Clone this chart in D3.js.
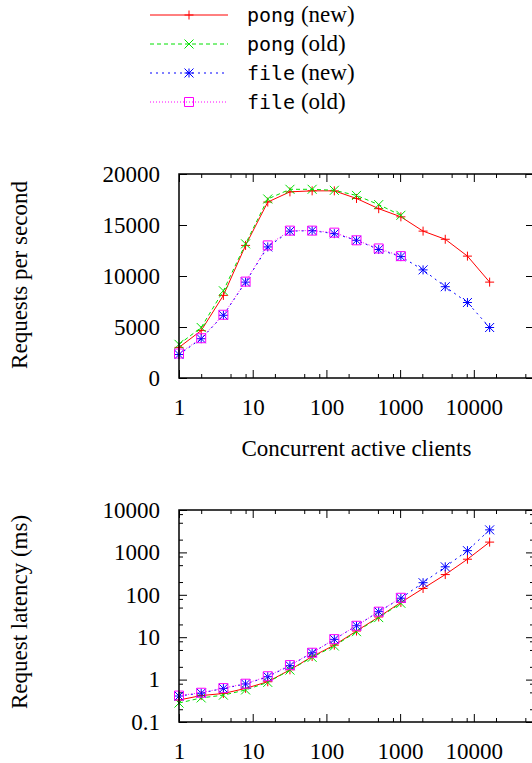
<!DOCTYPE html>
<html>
<head>
<meta charset="utf-8">
<script src="https://cdn.jsdelivr.net/npm/d3@7"></script>
<style>
    body { margin: 0; background: #fff; }
    svg text { font-family: "Liberation Serif", "Times New Roman", serif; }
</style>
</head>
<body>
<div id="viz"></div>
<script>
// benchmark: pong / file handlers, new vs old server

const clients = [1, 2, 4, 8, 16, 32, 64, 128, 256, 512, 1024, 2048, 4096, 8192, 16384];
const clientsOld = clients.slice(0, 11);

// requests per second
const rpsPongNew = [3000, 4650, 8100, 13000, 17250, 18250, 18350, 18350, 17600, 16600, 15800, 14400, 13600, 11950, 9400];
const rpsPongOld = [3300, 4950, 8550, 13150, 17550, 18500, 18500, 18400, 17900, 17000, 15950];
const rpsFileNew = [2300, 3850, 6150, 9400, 12850, 14400, 14450, 14150, 13500, 12600, 11900, 10600, 8950, 7400, 4950];
const rpsFileOld = [2400, 3900, 6200, 9450, 13000, 14450, 14450, 14250, 13500, 12700, 11950];

// request latency (ms)
const latPongNew = [0.33, 0.42, 0.47, 0.62, 0.89, 1.7, 3.5, 6.5, 14, 30, 66, 141, 300, 690, 1750];
const latPongOld = [0.28, 0.37, 0.43, 0.57, 0.86, 1.68, 3.35, 6.2, 13.5, 29, 63];
const latFileNew = [0.41, 0.48, 0.62, 0.79, 1.17, 2.13, 4.3, 8.9, 18.6, 40, 83, 193, 457, 1100, 3400];
const latFileOld = [0.42, 0.49, 0.63, 0.8, 1.2, 2.2, 4.3, 9, 18.6, 40, 85];

const seriesCode = ['pong', 'pong', 'file', 'file'];
const seriesTag = ['(new)', '(old)', '(new)', '(old)'];

const clientTicks = [1, 10, 100, 1000, 10000];
const rpsTicks = [0, 5000, 10000, 15000, 20000];
const latTicks = [0.1, 1, 10, 100, 1000, 10000];

const styles = [
    { color: '#ff0000', dash: null, marker: 'plus' },
    { color: '#00e000', dash: '4,3', marker: 'cross' },
    { color: '#0000ff', dash: '2,4', marker: 'star' },
    { color: '#ff00ff', dash: '1,2', marker: 'square' }
];

var dimensions = {
    width: 532,
    height: 763,
    left: 179,
    right: 534
};

const svg = d3.select('#viz').append('svg')
    .attr('width', dimensions.width)
    .attr('height', dimensions.height);

const x = d3.scaleLog().domain([1, 65536]).range([dimensions.left, dimensions.right]);

// minor ticks sit at 2, 5 and 8 of every decade
function minorTicks(lo, hi) {
    let out = [];
    for (let d = lo; d < hi; d *= 10) {
        [2, 5, 8].forEach(m => { if (m * d < hi) out.push(m * d); });
    }
    return out;
}

function marker(kind, r) {
    const plus = `M${-r},0H${r}M0,${-r}V${r}`;
    const cross = `M${-r},${-r}L${r},${r}M${-r},${r}L${r},${-r}`;
    if (kind == 'plus') return plus;
    if (kind == 'cross') return cross;
    if (kind == 'star') return plus + cross;
    return `M${-r},${-r}H${r}V${r}H${-r}Z`;
}

function styleAxis(g, labels) {
    g.select('.domain').remove();
    g.selectAll('line').attr('stroke', '#000').attr('stroke-width', 1);
    g.selectAll('text')
        .attr('fill', '#000')
        .style('font-family', '"Liberation Serif", serif')
        .style('font-size', '23px');
    if (!labels) g.selectAll('text').remove();
}

function drawPanel(y, top, bottom, yTicks, yMinor, yFormat, series) {
    const panel = svg.append('g');

    // x axis, bottom with labels, top mirror
    panel.append('g').attr('transform', `translate(0,${bottom})`)
        .call(d3.axisBottom(x).tickValues(clientTicks).tickSize(-8).tickPadding(21).tickFormat(d3.format('d')))
        .call(g => styleAxis(g, true));
    panel.append('g').attr('transform', `translate(0,${bottom})`)
        .call(d3.axisBottom(x).tickValues(minorTicks(1, 65536)).tickSize(-4).tickFormat(''))
        .call(g => styleAxis(g, false));
    panel.append('g').attr('transform', `translate(0,${top})`)
        .call(d3.axisTop(x).tickValues(clientTicks.concat([100000]).filter(v => v <= 65536)).tickSize(-8).tickFormat(''))
        .call(g => styleAxis(g, false));
    panel.append('g').attr('transform', `translate(0,${top})`)
        .call(d3.axisTop(x).tickValues(minorTicks(1, 65536)).tickSize(-4).tickFormat(''))
        .call(g => styleAxis(g, false));

    // y axis, left with labels, right mirror
    panel.append('g').attr('transform', `translate(${dimensions.left},0)`)
        .call(d3.axisLeft(y).tickValues(yTicks).tickSize(-8).tickPadding(19).tickFormat(yFormat))
        .call(g => styleAxis(g, true));
    panel.append('g').attr('transform', `translate(${dimensions.right},0)`)
        .call(d3.axisRight(y).tickValues(yTicks).tickSize(-8).tickFormat(''))
        .call(g => styleAxis(g, false));
    if (yMinor.length) {
        panel.append('g').attr('transform', `translate(${dimensions.left},0)`)
            .call(d3.axisLeft(y).tickValues(yMinor).tickSize(-4).tickFormat(''))
            .call(g => styleAxis(g, false));
        panel.append('g').attr('transform', `translate(${dimensions.right},0)`)
            .call(d3.axisRight(y).tickValues(yMinor).tickSize(-4).tickFormat(''))
            .call(g => styleAxis(g, false));
    }

    const line = d3.line().x(d => x(d[0])).y(d => y(d[1]));

    series.forEach((values, i) => {
        const xs = values.length == clients.length ? clients : clientsOld;
        const pts = values.map((v, j) => [xs[j], v]);
        const s = styles[i];

        panel.append('path')
            .datum(pts)
            .attr('fill', 'none')
            .attr('stroke', s.color)
            .attr('stroke-width', 1)
            .attr('stroke-dasharray', s.dash)
            .attr('d', line);

        panel.append('g')
            .selectAll('path')
            .data(pts)
            .enter().append('path')
                .attr('transform', d => `translate(${x(d[0])},${y(d[1])})`)
                .attr('d', marker(s.marker, 4.5))
                .attr('fill', 'none')
                .attr('stroke', s.color)
                .attr('stroke-width', 1);
    });

    panel.append('rect')
        .attr('x', dimensions.left)
        .attr('y', top)
        .attr('width', dimensions.right - dimensions.left)
        .attr('height', bottom - top)
        .attr('fill', 'none')
        .attr('stroke', '#000')
        .attr('stroke-width', 1.5);
}

// top: throughput
const yRps = d3.scaleLinear().domain([0, 20000]).range([378, 174]);
drawPanel(yRps, 174, 378, rpsTicks, [], d3.format('d'),
    [rpsPongNew, rpsPongOld, rpsFileNew, rpsFileOld]);

// bottom: latency
const yLat = d3.scaleLog().domain([0.1, 10000]).range([722, 510]);
drawPanel(yLat, 510, 722, latTicks, minorTicks(0.1, 10000), d => String(d),
    [latPongNew, latPongOld, latFileNew, latFileOld]);

// axis titles
svg.append('text')
    .attr('transform', 'translate(27,275) rotate(-90)')
    .attr('text-anchor', 'middle')
    .style('font-size', '23px')
    .text('Requests per second');

svg.append('text')
    .attr('transform', 'translate(27,612) rotate(-90)')
    .attr('text-anchor', 'middle')
    .style('font-size', '23px')
    .text('Request latency (ms)');

svg.append('text')
    .attr('x', (dimensions.left + dimensions.right) / 2)
    .attr('y', 456)
    .attr('text-anchor', 'middle')
    .style('font-size', '23px')
    .text('Concurrent active clients');

// legend
const legend = svg.append('g');
styles.forEach((s, i) => {
    const ly = 15 + i * 29;
    legend.append('line')
        .attr('x1', 150).attr('x2', 228)
        .attr('y1', ly).attr('y2', ly)
        .attr('stroke', s.color)
        .attr('stroke-width', 1)
        .attr('stroke-dasharray', s.dash);
    legend.append('path')
        .attr('transform', `translate(189,${ly})`)
        .attr('d', marker(s.marker, 4.5))
        .attr('fill', 'none')
        .attr('stroke', s.color);
    const t = legend.append('text')
        .attr('x', 247)
        .attr('y', ly + 7)
        .style('font-size', '23px');
    t.append('tspan')
        .style('font-family', '"DejaVu Sans Mono", monospace')
        .style('font-size', '20px')
        .text(seriesCode[i]);
    t.append('tspan').text(' ' + seriesTag[i]);
});
</script>
</body>
</html>
